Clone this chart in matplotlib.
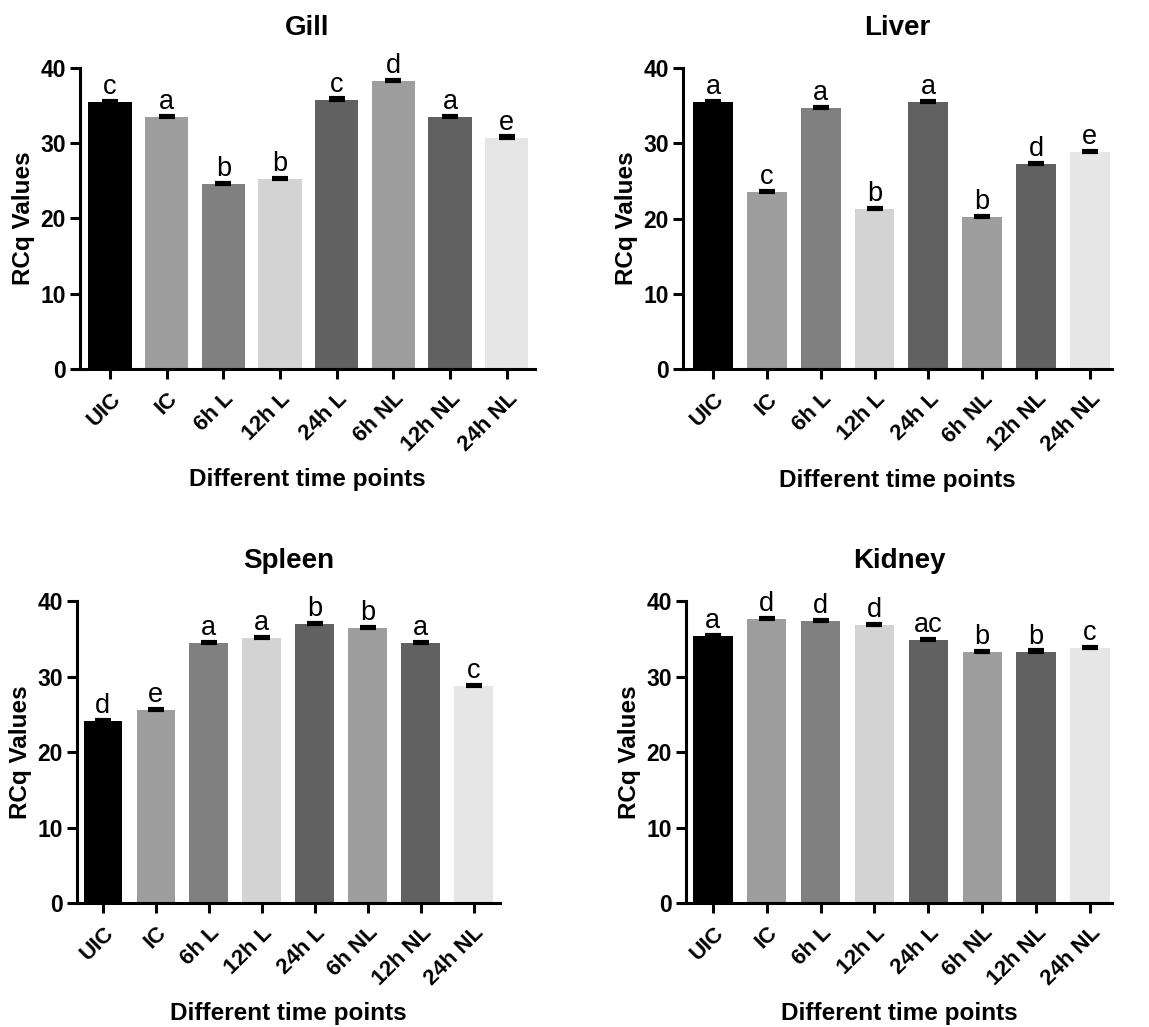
import matplotlib
matplotlib.use("Agg")
import matplotlib.pyplot as plt
import numpy as np

plt.rcParams['font.family'] = ['Liberation Sans', 'DejaVu Sans']

categories = ["UIC", "IC", "6h L", "12h L", "24h L", "6h NL", "12h NL", "24h NL"]
bar_colors = ["#000000", "#9e9e9e", "#808080", "#d3d3d3", "#616161", "#9e9e9e", "#616161", "#e6e6e6"]

gill_values = [35.5, 33.5, 24.6, 25.2, 35.8, 38.3, 33.5, 30.75]
gill_err = [0.1, 0.15, 0.15, 0.15, 0.15, 0.15, 0.15, 0.15]
gill_letters = ["c", "a", "b", "b", "c", "d", "a", "e"]

liver_values = [35.5, 23.5, 34.7, 21.3, 35.5, 20.2, 27.3, 28.8]
liver_err = [0.1, 0.15, 0.15, 0.15, 0.15, 0.15, 0.15, 0.15]
liver_letters = ["a", "c", "a", "b", "a", "b", "d", "e"]

spleen_values = [24.1, 25.6, 34.4, 35.05, 36.95, 36.4, 34.4, 28.75]
spleen_err = [0.1, 0.15, 0.15, 0.15, 0.15, 0.15, 0.15, 0.15]
spleen_letters = ["d", "e", "a", "a", "b", "b", "a", "c"]

kidney_values = [35.4, 37.6, 37.3, 36.8, 34.8, 33.25, 33.3, 33.8]
kidney_err = [0.1, 0.15, 0.15, 0.15, 0.15, 0.15, 0.15, 0.15]
kidney_letters = ["a", "d", "d", "d", "ac", "b", "b", "c"]

yticks = [0, 10, 20, 30, 40]
ylabel = "RCq Values"
xlabel = "Different time points"

panels = [
    ("Gill", gill_values, gill_err, gill_letters, [0.0696, 0.6407, 0.3960, 0.2931], (-0.53, 7.5), 0.76),
    ("Liver", liver_values, liver_err, liver_letters, [0.5944, 0.6404, 0.3734, 0.2934], (-0.557, 7.41), 0.74),
    ("Spleen", spleen_values, spleen_err, spleen_letters, [0.0670, 0.1207, 0.3682, 0.2941], (-0.49, 7.5), 0.73),
    ("Kidney", kidney_values, kidney_err, kidney_letters, [0.5970, 0.1207, 0.3708, 0.2941], (-0.5, 7.41), 0.73),
]

fig = plt.figure(figsize=(11.49, 10.27), dpi=100)

for title, vals, errs, letters, rect, xl, bw in panels:
    ax = fig.add_axes(rect)
    x = np.arange(len(categories))
    ax.bar(x, vals, width=bw, color=bar_colors, edgecolor='none', zorder=2)
    ax.errorbar(x, vals, yerr=[np.zeros(len(vals)), errs], fmt='none', ecolor='black',
                elinewidth=2, capsize=6, capthick=3, zorder=3)
    for xi, v, e, lab in zip(x, vals, errs, letters):
        ax.annotate(lab, (xi, v + e), xytext=(0, 5), textcoords='offset points',
                    ha='center', va='baseline', fontsize=19.5, color='black',
                    annotation_clip=False)
    ax.set_xlim(*xl)
    ax.set_ylim(0, 40)
    ax.set_yticks(yticks)
    ax.set_yticklabels([str(t) for t in yticks], fontsize=16.5, fontweight='bold')
    ax.set_xticks(x)
    ax.set_xticklabels(categories, rotation=45, ha='right', rotation_mode='anchor',
                       fontsize=16, fontweight='bold')
    ax.tick_params(axis='both', length=7, width=2.2, direction='out', pad=3)
    ax.tick_params(axis='x', pad=7)
    for s in ['top', 'right']:
        ax.spines[s].set_visible(False)
    for s in ['left', 'bottom']:
        ax.spines[s].set_linewidth(2.2)
    ax.set_title(title, fontsize=20, fontweight='bold', pad=24)
    ax.set_ylabel(ylabel, fontsize=17.5, fontweight='bold', labelpad=4)
    ax.set_xlabel(xlabel, fontsize=17.5, fontweight='bold', labelpad=9)

fig.savefig("out.png", dpi=100)
